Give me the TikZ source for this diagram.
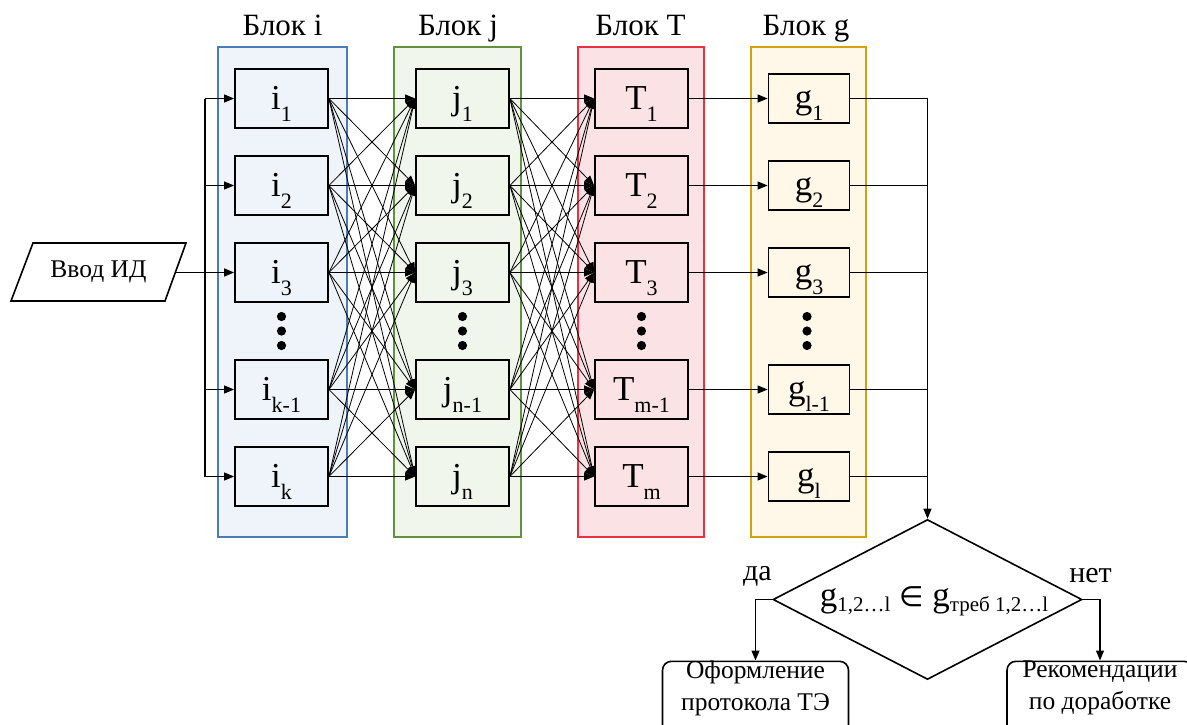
\documentclass[tikz,border=0pt]{standalone}
\usepackage{fontspec}
\setmainfont{Liberation Serif}
\newfontfamily\symfam{DejaVu Sans}
\usetikzlibrary{arrows.meta,shapes.geometric,backgrounds}
\newcommand{\mysub}[1]{\raisebox{-12pt}{\fontsize{22}{22}\selectfont #1}}
\newcommand{\dsub}[1]{\raisebox{-4.5pt}{\fontsize{21}{21}\selectfont #1}}
\definecolor{bi}{HTML}{4A7DB5}\definecolor{bif}{HTML}{EFF4FA}
\definecolor{bj}{HTML}{62913F}\definecolor{bjf}{HTML}{F0F6EC}
\definecolor{bt}{HTML}{E8303F}\definecolor{btf}{HTML}{FBE2E4}
\definecolor{bg}{HTML}{D4A20F}\definecolor{bgf}{HTML}{FFF8E9}
\tikzset{
  frame/.style={draw, line width=1.6pt, minimum width=#1, minimum height=490, inner sep=0},
  cell/.style={draw=black, line width=1.8pt, minimum width=93, minimum height=59, inner sep=0,
     font=\fontsize{35}{35}\selectfont, text height=21pt, text depth=0pt},
  gcell/.style={draw=black, line width=1.8pt, minimum width=81, minimum height=49, inner sep=0,
     font=\fontsize{35}{35}\selectfont, text height=19pt, text depth=0pt},
  title/.style={anchor=base, font=\fontsize{31}{31}\selectfont, inner sep=0},
  arr/.style={-{Triangle[length=10pt,width=8pt]}},
  link/.style={arr, line width=0.8pt},
  bus/.style={line width=1.1pt},
  endbox/.style={draw, line width=1.6pt, rounded corners=9pt, minimum width=186, minimum height=90, anchor=north},
  txt/.style={font=\fontsize{25.5}{32}\selectfont, align=center, inner sep=0},
  dot/.style={fill=black}
}
\begin{document}
\begin{tikzpicture}[x=1pt,y=-1pt]
\useasboundingbox (0,0) rectangle (1187,724);
\clip (0,0) rectangle (1187,724);
% frames
\node[frame=129, draw=bi, fill=bif] (fi) at (282.5,292) {};
\node[frame=127, draw=bj, fill=bjf] (fj) at (457.5,292) {};
\node[frame=126, draw=bt, fill=btf] (ft) at (641,292) {};
\node[frame=115, draw=bg, fill=bgf] (fg) at (808.5,292) {};
\node[title] (ti) at (282.5,35) {Блок i};
\node[title] (tj) at (458,35) {Блок j};
\node[title] (tt) at (640.5,35) {Блок T};
\node[title] (tg) at (806,35) {Блок g};
% cells
\node[cell] (i1) at (281.5,98.5) {i\mysub{1}};
\node[cell] (i2) at (281.5,185.5) {i\mysub{2}};
\node[cell] (i3) at (281.5,272.5) {i\mysub{3}};
\node[cell] (i4) at (281.5,389.5) {i\mysub{k-1}};
\node[cell] (i5) at (281.5,476.5) {i\mysub{k}};
\node[cell] (j1) at (462.5,98.5) {j\mysub{1}};
\node[cell] (j2) at (462.5,185.5) {j\mysub{2}};
\node[cell] (j3) at (462.5,272.5) {j\mysub{3}};
\node[cell] (j4) at (462.5,389.5) {j\mysub{n-1}};
\node[cell] (j5) at (462.5,476.5) {j\mysub{n}};
\node[cell] (t1) at (641.5,98.5) {T\mysub{1}};
\node[cell] (t2) at (641.5,185.5) {T\mysub{2}};
\node[cell] (t3) at (641.5,272.5) {T\mysub{3}};
\node[cell] (t4) at (641.5,389.5) {T\mysub{m-1}};
\node[cell] (t5) at (641.5,476.5) {T\mysub{m}};
\node[gcell] (g1) at (809,98.5) {g\mysub{1}};
\node[gcell] (g2) at (809,185.5) {g\mysub{2}};
\node[gcell] (g3) at (809,272.5) {g\mysub{3}};
\node[gcell] (g4) at (809,389.5) {g\mysub{l-1}};
\node[gcell] (g5) at (809,476.5) {g\mysub{l}};
% dots
\foreach \x in {281.5,462.5,641.5,807}{
  \foreach \y in {316.5,331,345.5}{ \fill[dot] (\x,\y) circle (4.6); }
}
% input
\node[txt] (inp) at (98.5,272) {Ввод ИД};
\draw[line width=1.6pt] (33,243) -- (186,243) -- (165,301) -- (11,301) -- cycle;
\coordinate (inpR) at (175.5,272.5);
\coordinate (bx) at (205,0);
\draw[bus] (i1.west -| bx) -- (i5.west -| bx);
\foreach \a in {1,2,4,5}{ \draw[bus,arr] (i\a.west -| bx) -- (i\a.west); }
\draw[line width=1.6pt,arr] (inpR) -- (i3.west);
% all-to-all links
\foreach \a in {1,...,5}{
  \foreach \b in {1,...,5}{
    \draw[link] (i\a.east) -- (j\b.west);
    \draw[link] (j\a.east) -- (t\b.west);
  }
  \draw[bus,arr] (t\a.east) -- (g\a.west);
}
% decision
\node[diamond, draw, line width=1.6pt, minimum width=309, minimum height=160, aspect=1.93, inner sep=0,
  font=\fontsize{35}{35}\selectfont, text height=14pt, text depth=0pt] (d) at (927.5,599.5)
  {\hspace*{13pt}g\dsub{1,2…l} {\symfam\fontsize{28}{28}\selectfont ∈} g\dsub{треб 1,2…l}};
\foreach \a in {1,...,5}{ \draw[bus] (g\a.east) -- (g\a.east -| d.north); }
\draw[bus,arr] (g1.east -| d.north) -- (d.north);
\node[endbox] (bl) at (755.5,660.5) {};
\node[endbox] (br) at (1100,660.5) {};
\node[txt] (blt) at (755.5,688) {Оформление\\протокола ТЭ};
\node[txt] (brt) at (1100,688) {Рекомендации\\по доработке};
\draw[bus,arr] (d.west) -| (bl.north);
\draw[bus,arr] (d.east) -| (br.north);
\node[font=\fontsize{30}{30}\selectfont, inner sep=0] (yes) at (757.5,576) {да};
\node[font=\fontsize{30}{30}\selectfont, inner sep=0] (no) at (1090.5,576) {нет};
\end{tikzpicture}
\end{document}
